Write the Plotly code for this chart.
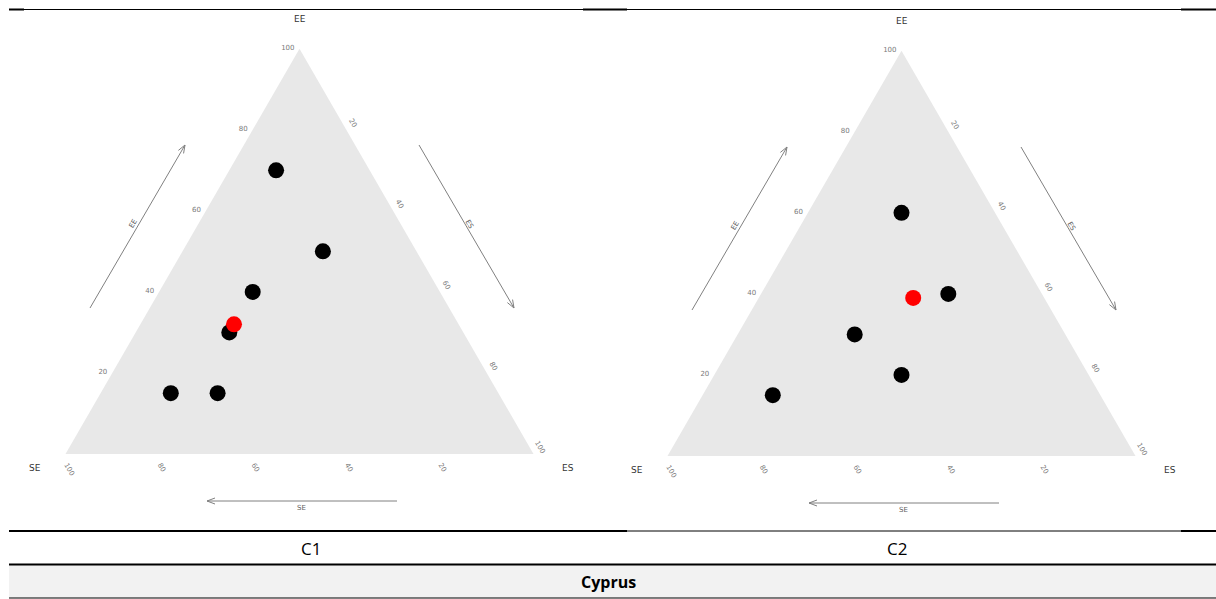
import math
import plotly.graph_objects as go

# Ternary compositions (percent) for the two clusters
c1_ee = [70, 50, 40, 30, 15, 15]
c1_se = [20, 20, 40, 50, 70, 60]
c1_es = [10, 30, 20, 20, 15, 25]
c1_centre = {"EE": [32], "SE": [48], "ES": [20]}

c2_ee = [60, 40, 30, 20, 15]
c2_se = [20, 20, 45, 40, 70]
c2_es = [20, 40, 25, 40, 15]
c2_centre = {"EE": [39], "SE": [28], "ES": [33]}

tick_vals = [20, 40, 60, 80, 100]
panel_captions = ["C1", "C2"]
country = "Cyprus"

W, H = 1216, 599


def px(x):
    return x / W


def py(y):
    return 1 - y / H


fig = go.Figure()

panels = [
    ("ternary", c1_ee, c1_se, c1_es, c1_centre),
    ("ternary2", c2_ee, c2_se, c2_es, c2_centre),
]
for sub, ee, se, es, centre in panels:
    fig.add_trace(go.Scatterternary(
        a=ee, b=se, c=es, mode="markers", subplot=sub,
        marker=dict(color="black", size=16, line=dict(width=0)),
        showlegend=False,
    ))
    fig.add_trace(go.Scatterternary(
        a=centre["EE"], b=centre["SE"], c=centre["ES"], mode="markers",
        subplot=sub,
        marker=dict(color="#ff0000", size=16, line=dict(width=0)),
        showlegend=False,
    ))

tick_font = dict(family="DejaVu Sans", size=7, color="#7a7a7a")


def tern_axis(angle):
    return dict(
        title=dict(text=""), tickvals=tick_vals, ticktext=[str(v) for v in tick_vals],
        showgrid=False, showline=False, ticks="outside", ticklen=3,
        tickcolor="rgba(255,255,255,0)", tickfont=tick_font, tickangle=angle,
    )


def tern_layout(x0, x1, ytop, ybot):
    return dict(
        sum=100, bgcolor="#e8e8e8",
        domain=dict(x=[px(x0), px(x1)], y=[py(ybot), py(ytop)]),
        aaxis=tern_axis(0), baxis=tern_axis(60), caxis=tern_axis(60),
    )


def label(text, x, y, size, color, family="DejaVu Sans", angle=0):
    annotations.append(dict(
        x=px(x), y=py(y), xref="paper", yref="paper", text=text,
        showarrow=False, textangle=angle, xanchor="center", yanchor="middle",
        font=dict(family=family, size=size, color=color),
    ))


# panel placement (left edge, right edge, apex y, base y)
geom = [(65.5, 533.5, 48.7, 454.0), (667.5, 1135.5, 50.7, 456.0)]

shapes = []
annotations = []

for (x0, x1, ytop, ybot) in geom:
    cx = (x0 + x1) / 2
    dx = cx - 299.5
    dy = ybot - 454.0
    # corner titles
    for text, xx, yy in [("EE", 299.5, 19), ("SE", 35, 468), ("ES", 568, 468)]:
        label(text, xx + dx, yy + dy, 9, "#333333")
    # direction arrows along the sides
    arrows = [
        ((90, 308), (185, 145), "EE", (133, 224), -60),
        ((419, 145), (514, 308), "ES", (469, 224), 60),
        ((397, 501), (207, 501), "SE", (301, 508), 0),
    ]
    for (xs, ys), (xe, ye), lab, (lx, ly), ang in arrows:
        xs, xe, lx = xs + dx, xe + dx, lx + dx
        ys, ye, ly = ys + dy, ye + dy, ly + dy
        L = math.hypot(xe - xs, ye - ys)
        ux, uy = (xe - xs) / L, (ye - ys) / L
        hl, hw = 8, 3
        bx, by = xe - ux * hl, ye - uy * hl
        h1 = (bx - uy * hw, by + ux * hw)
        h2 = (bx + uy * hw, by - ux * hw)
        path = (f"M {px(xs)},{py(ys)} L {px(xe)},{py(ye)} "
                f"M {px(h1[0])},{py(h1[1])} L {px(xe)},{py(ye)} L {px(h2[0])},{py(h2[1])}")
        shapes.append(dict(type="path", xref="paper", yref="paper", path=path,
                           line=dict(color="#808080", width=1)))
        label(lab, lx, ly, 7, "#606060", angle=ang)


def hline(x0, x1, y, w):
    shapes.append(dict(type="line", xref="paper", yref="paper",
                       x0=px(x0), x1=px(x1), y0=py(y), y1=py(y),
                       line=dict(color="black", width=w)))


# table rules
shapes.append(dict(type="rect", xref="paper", yref="paper",
                   x0=px(9), x1=px(1216), y0=py(598), y1=py(565),
                   fillcolor="#f2f2f2", line=dict(width=0), layer="below"))
hline(9, 24, 9.5, 2)
hline(24, 583, 9.5, 1)
hline(583, 627, 9.5, 2)
hline(627, 1181, 9.5, 1)
hline(1181, 1216, 9.5, 2)
hline(9, 627, 531, 2)
hline(627, 1181, 531, 1)
hline(1181, 1216, 531, 2)
hline(9, 1216, 564.5, 2)
hline(9, 1216, 598, 1)

for cap, xx in zip(panel_captions, [311, 897]):
    label(cap, xx, 548, 17, "black", family="Open Sans")
label(f"<b>{country}</b>", 608, 582, 16, "black", family="Open Sans")

fig.update_layout(
    width=W, height=H, margin=dict(l=0, r=0, t=0, b=0),
    paper_bgcolor="white", plot_bgcolor="white",
    ternary=tern_layout(*geom[0]), ternary2=tern_layout(*geom[1]),
    shapes=shapes, annotations=annotations, showlegend=False,
)

fig.write_html("out.html")
